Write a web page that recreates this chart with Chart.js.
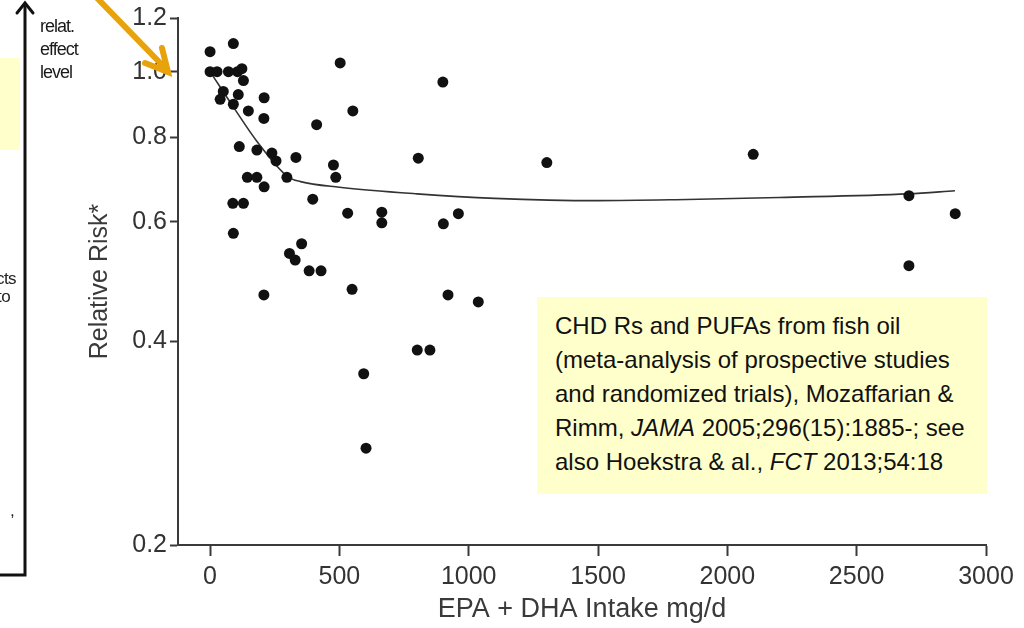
<!DOCTYPE html>
<html>
<head>
<meta charset="utf-8">
<script src="https://cdn.jsdelivr.net/npm/chart.js@4.4.1/dist/chart.umd.min.js"></script>
<style>
    html, body { margin: 0; padding: 0; background: #fff; }
    #wrap { position: relative; width: 1024px; height: 628px; overflow: hidden;
            font-family: "Liberation Sans", Arial, sans-serif; }
    #chart { position: absolute; left: 0; top: 0; }
    .sideNote { position: absolute; left: 0; top: 58px; width: 20px; height: 92px; background: #ffffcc; }
    .effectLabel { position: absolute; left: 40px; top: 15px; font-size: 18px; line-height: 23px;
                   color: #1a1a1a; letter-spacing: -1px; }
    .cut { position: absolute; right: 1008px; font-size: 17px; color: #222; white-space: nowrap;
           letter-spacing: -0.6px; }
    .note { position: absolute; left: 537px; top: 297px; width: 450px; height: 197px;
            background: #ffffcc; box-sizing: border-box; padding: 12px 0 0 18px;
            font-size: 24px; line-height: 34px; color: #111; white-space: nowrap; }
</style>
</head>
<body>
<div id="wrap">
    <canvas id="chart" width="1024" height="628"></canvas>

    <div class="sideNote"></div>
    <div class="effectLabel">relat.<br>effect<br>level</div>
    <div class="cut" style="top:269px">effects</div>
    <div class="cut" style="top:287px; right:1014px">to</div>
    <div class="cut" style="top:501px; right:1010px">,</div>

    <svg width="1024" height="628" style="position:absolute; left:0; top:0; pointer-events:none">
        <polyline points="0,575 25,575 25,4" fill="none" stroke="#111" stroke-width="3"/>
        <polyline points="17,13 25,3 33,13" fill="none" stroke="#111" stroke-width="3" stroke-linecap="round"/>
        <line x1="97" y1="-2" x2="166" y2="69" stroke="#e8a20c" stroke-width="6"/>
        <polyline points="162,48 168,72 145,63" fill="none" stroke="#e8a20c" stroke-width="6"
                  stroke-linejoin="miter" stroke-linecap="round"/>
    </svg>

    <div class="note">
        CHD Rs and PUFAs from fish oil<br>
        (meta-analysis of prospective studies<br>
        and randomized trials), Mozaffarian &amp;<br>
        Rimm, <i>JAMA</i> 2005;296(15):1885-; see<br>
        also Hoekstra &amp; al., <i>FCT</i> 2013;54:18
    </div>
</div>

<script>
// study points: EPA+DHA intake (mg/d) and relative risk
const intake = [0, 90, 503, 0, 27, 71, 106, 123, 129, 51,
                39, 109, 90, 209, 148, 208, 552, 412, 900, 113,
                181, 239, 255, 332, 477, 486, 297, 144, 181, 209,
                397, 88, 129, 532, 664, 664, 90, 354, 307, 329,
                383, 429, 549, 208, 801, 850, 594, 603, 805, 1302,
                960, 902, 920, 1037, 2100, 2702, 2881, 2702];
const relRisk = [1.07, 1.10, 1.03, 1.00, 1.00, 1.00, 1.00, 1.01, 0.97, 0.935,
                 0.91, 0.925, 0.895, 0.915, 0.875, 0.853, 0.875, 0.835, 0.965, 0.775,
                 0.766, 0.758, 0.738, 0.747, 0.728, 0.698, 0.698, 0.698, 0.698, 0.676,
                 0.648, 0.639, 0.639, 0.618, 0.620, 0.598, 0.577, 0.557, 0.539, 0.527,
                 0.508, 0.508, 0.477, 0.468, 0.388, 0.388, 0.358, 0.278, 0.745, 0.734,
                 0.617, 0.596, 0.468, 0.457, 0.755, 0.656, 0.617, 0.517];

// fitted curve
const curveX = [0, 100, 180, 300, 350, 500, 800, 1100, 1500, 1800, 2200, 2700, 2880];
const curveY = [1.0, 0.875, 0.79, 0.70, 0.688, 0.675, 0.66, 0.65, 0.645, 0.647, 0.652, 0.66, 0.667];

const xTicks = [0, 500, 1000, 1500, 2000, 2500, 3000];
const yTicks = [0.2, 0.4, 0.6, 0.8, 1.0, 1.2];

const axisColor = "#3a3a3a";
const labelFont = "'Liberation Sans', Arial, sans-serif";

new Chart(document.getElementById("chart"), {
    type: "scatter",
    data: {
        datasets: [
            {
                type: "line",
                data: curveX.map((x, i) => ({ x, y: curveY[i] })),
                borderColor: "#333",
                borderWidth: 1.6,
                pointRadius: 0,
                cubicInterpolationMode: "monotone",
                order: 2
            },
            {
                data: intake.map((x, i) => ({ x, y: relRisk[i] })),
                backgroundColor: "#111",
                borderWidth: 0,
                pointRadius: 5.5,
                order: 1
            }
        ]
    },
    options: {
        responsive: false,
        animation: false,
        layout: { padding: { top: 18, right: 38, left: 0, bottom: 0 } },
        plugins: { legend: { display: false }, tooltip: { enabled: false } },
        scales: {
            x: {
                type: "linear",
                min: -124,
                max: 3000,
                afterBuildTicks: s => { s.ticks = xTicks.map(v => ({ value: v })); },
                afterFit: s => { s.height = 83; },
                grid: { drawOnChartArea: false, tickLength: 11, color: axisColor, tickWidth: 2 },
                border: { color: axisColor, width: 2 },
                ticks: {
                    color: "#333",
                    padding: 6,
                    font: { family: labelFont, size: 25 },
                    maxRotation: 0,
                    callback: v => String(v)
                },
                title: {
                    display: true,
                    text: "EPA + DHA Intake mg/d",
                    color: "#3a3a3a",
                    font: { family: labelFont, size: 27 },
                    padding: { top: 0, bottom: 2 }
                }
            },
            y: {
                type: "logarithmic",
                min: 0.2,
                max: 1.2,
                afterBuildTicks: s => { s.ticks = yTicks.map(v => ({ value: v })); },
                afterFit: s => { s.width = 178; },
                grid: { drawOnChartArea: false, tickLength: 8, color: axisColor, tickWidth: 2 },
                border: { color: axisColor, width: 2 },
                ticks: {
                    color: "#333",
                    padding: 3,
                    font: { family: labelFont, size: 25 },
                    callback: v => Number(v).toFixed(1)
                },
                title: {
                    display: true,
                    text: "Relative Risk*",
                    color: "#3a3a3a",
                    font: { family: labelFont, size: 25 },
                    padding: { top: 85, bottom: 0 }
                }
            }
        }
    }
});
</script>
</body>
</html>
